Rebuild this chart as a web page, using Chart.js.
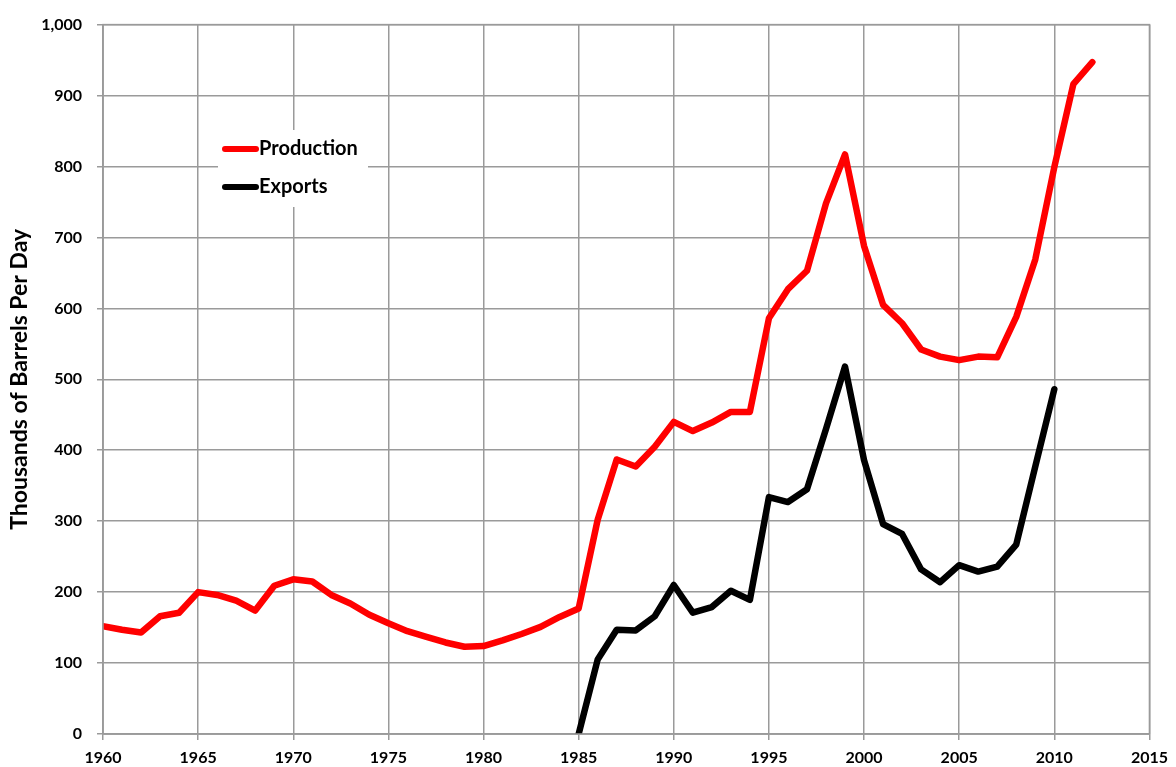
<!DOCTYPE html>
<html>
<head>
<meta charset="utf-8">
<script src="https://cdn.jsdelivr.net/npm/chart.js@4.4.0/dist/chart.umd.min.js"></script>
<style>
  html, body { margin: 0; padding: 0; background: #fff; }
  #wrap { width: 1176px; height: 767px; }
</style>
</head>
<body>
<div id="wrap"><canvas id="chart" width="1176" height="767"></canvas></div>
<script>
// production, 1960-2012
const prodYears = [1960, 1961, 1962, 1963, 1964, 1965, 1966, 1967, 1968, 1969,
  1970, 1971, 1972, 1973, 1974, 1975, 1976, 1977, 1978, 1979,
  1980, 1981, 1982, 1983, 1984, 1985, 1986, 1987, 1988, 1989,
  1990, 1991, 1992, 1993, 1994, 1995, 1996, 1997, 1998, 1999,
  2000, 2001, 2002, 2003, 2004, 2005, 2006, 2007, 2008, 2009,
  2010, 2011, 2012];
const production = [152, 147, 143, 166, 171, 200, 196, 188, 174, 209,
  218, 215, 196, 184, 168, 156, 145, 137, 129, 123,
  124, 132, 141, 151, 165, 177, 302, 387, 377, 405,
  440, 427, 439, 454, 454, 586, 627, 653, 748, 817,
  688, 605, 579, 542, 532, 527, 532, 531, 588, 669,
  799, 916, 947];

// exports, 1985-2010
const exportYears = [1985, 1986, 1987, 1988, 1989, 1990, 1991, 1992, 1993, 1994,
  1995, 1996, 1997, 1998, 1999, 2000, 2001, 2002, 2003, 2004,
  2005, 2006, 2007, 2008, 2009, 2010];
const exportsData = [0, 105, 147, 146, 166, 210, 171, 179, 202, 189,
  334, 327, 345, 430, 518, 386, 296, 282, 232, 214,
  238, 229, 236, 267, 377, 486];

const toPoints = (xs, ys) => xs.map((x, i) => ({ x, y: ys[i] }));

const gridColor = '#9a9a9a';
const fontFamily = 'Lato, "Liberation Sans", sans-serif';

// legend drawn inside the plot on a white box
const insideLegend = {
  id: 'insideLegend',
  afterDatasetsDraw(chart) {
    const ctx = chart.ctx;
    ctx.save();
    ctx.fillStyle = '#fff';
    ctx.fillRect(218, 130, 150, 77);
    chart.data.datasets.forEach((ds, i) => {
      const y = 149 + i * 38;
      ctx.strokeStyle = ds.borderColor;
      ctx.lineWidth = 6;
      ctx.lineCap = 'round';
      ctx.beginPath();
      ctx.moveTo(225, y);
      ctx.lineTo(256, y);
      ctx.stroke();
      ctx.fillStyle = '#000';
      ctx.font = 'bold 20px ' + fontFamily;
      ctx.textBaseline = 'middle';
      ctx.fillText(ds.label, 259, y);
    });
    ctx.restore();
  }
};

new Chart(document.getElementById('chart'), {
  type: 'line',
  data: {
    datasets: [{
      label: 'Production',
      data: toPoints(prodYears, production),
      borderColor: '#ff0000',
      borderWidth: 6.5,
      pointRadius: 0,
      tension: 0,
      borderCapStyle: 'round',
      borderJoinStyle: 'round'
    }, {
      label: 'Exports',
      data: toPoints(exportYears, exportsData),
      borderColor: '#000000',
      borderWidth: 6.5,
      pointRadius: 0,
      tension: 0,
      borderCapStyle: 'round',
      borderJoinStyle: 'round'
    }]
  },
  options: {
    responsive: false,
    animation: false,
    layout: { padding: { top: 20, right: 20, left: 0, bottom: 0 } },
    plugins: {
      legend: { display: false },
      tooltip: { enabled: false }
    },
    scales: {
      x: {
        type: 'linear',
        min: 1960,
        max: 2015,
        ticks: {
          stepSize: 5,
          color: '#000',
          font: { family: fontFamily, size: 16, weight: 'bold' },
          callback: v => String(v),
          padding: 8
        },
        grid: { color: gridColor, lineWidth: 1.5, tickLength: 6 },
        border: { color: gridColor, width: 1.5 },
        afterFit: s => { s.height = 33; }
      },
      y: {
        min: 0,
        max: 1000,
        ticks: {
          stepSize: 100,
          color: '#000',
          font: { family: fontFamily, size: 16, weight: 'bold' },
          callback: v => v.toLocaleString('en-US'),
          padding: 15
        },
        grid: { color: gridColor, lineWidth: 1.5, tickLength: 6 },
        border: { color: gridColor, width: 1.5 },
        title: {
          display: true,
          text: 'Thousands of Barrels Per Day',
          color: '#000',
          font: { family: fontFamily, size: 23, weight: 'bold' },
          padding: { top: 6, bottom: 0 }
        },
        afterFit: s => { s.width = 103; }
      }
    }
  },
  plugins: [insideLegend, {
    id: 'plotFrame',
    afterDraw(chart) {
      const { ctx, chartArea } = chart;
      ctx.save();
      ctx.strokeStyle = gridColor;
      ctx.lineWidth = 1.5;
      ctx.strokeRect(chartArea.left, chartArea.top, chartArea.right - chartArea.left, chartArea.bottom - chartArea.top);
      ctx.restore();
    }
  }]
});
</script>
</body>
</html>
